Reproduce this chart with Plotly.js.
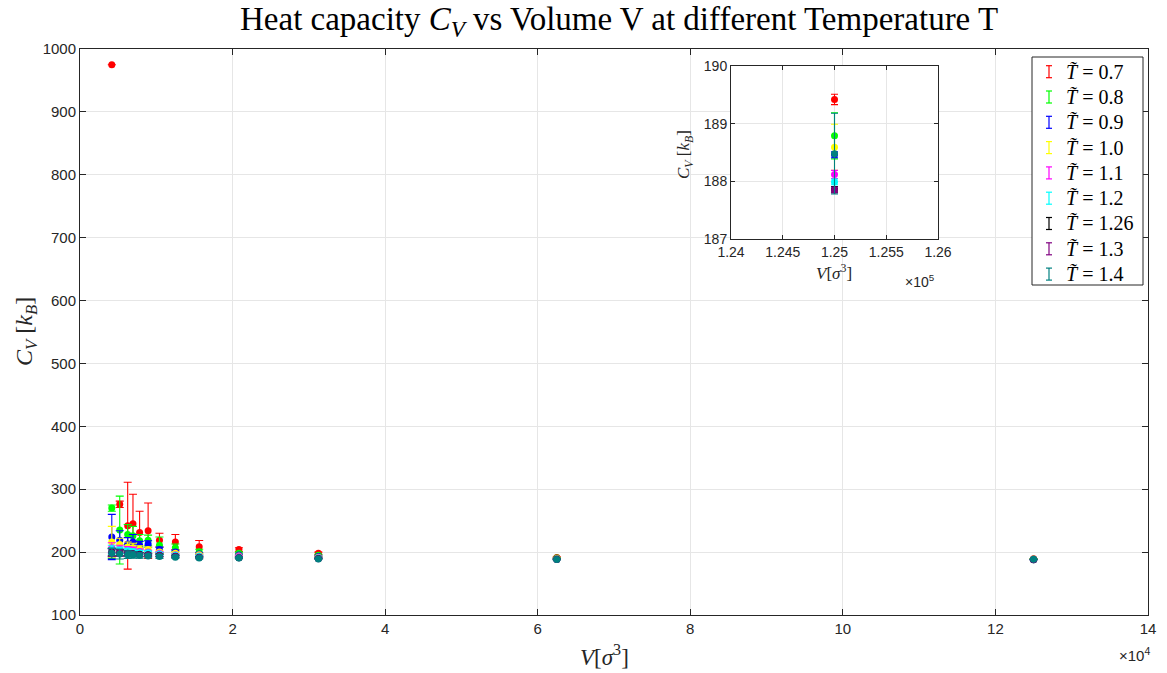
<!DOCTYPE html>
<html>
<head>
<meta charset="utf-8">
<script src="https://cdn.plot.ly/plotly-3.0.1.min.js"></script>
<style>html,body{margin:0;padding:0;background:#fff;}#chart{width:1167px;height:673px;}</style>
</head>
<body>
<div id="chart"></div>
<script>
// ---- data ----
const volumes = [4167, 5208, 6250, 6944, 7813, 8929, 10417, 12500, 15625, 20833, 31250, 62500, 125000];
const temperatures = ['0.7', '0.8', '0.9', '1.0', '1.1', '1.2', '1.26', '1.3', '1.4'];
const colors = ['#ff0000', '#00ff00', '#0000ff', '#ffff00', '#ff00ff', '#00ffff', '#000000', '#800080', '#008080'];

const cv_T07  = [975, 276, 242, 245, 231, 234, 219, 216, 208.5, 204, 198, 191.5, 189.42];
const err_T07 = [0, 5, 69, 47, 34, 44, 11, 12, 10, 3, 2, 1, 0.09];
const cv_T08  = [270, 235, 228, 226, 218, 219, 211, 207, 200.5, 198, 195, 190.5, 188.79];
const err_T08 = [5, 54, 16, 15, 10, 8, 13, 6, 4, 2, 1.5, 1, 0.4];
const cv_T09  = [224, 219, 213, 216, 211, 213, 204, 200, 197, 195.5, 193, 189.5, 188.46];
const err_T09 = [36, 15, 10, 12, 6, 5, 4, 3, 2, 1.5, 1, 0.7, 0.05];
const cv_T10  = [216, 212, 208, 207, 205, 204, 200, 198, 196, 194, 192, 189.5, 188.59];
const err_T10 = [25, 10, 8, 7, 5, 4, 3, 2, 1.5, 1, 1, 0.6, 0.4];
const cv_T11  = [207, 205, 204, 203, 201, 200, 198, 196, 194, 193, 191, 189, 188.12];
const err_T11 = [8, 6, 5, 5, 4, 3, 2, 1.5, 1, 1, 0.7, 0.4, 0.07];
const cv_T12  = [204, 203, 202, 201, 199.5, 199, 197, 195, 193.5, 192, 190.5, 188.8, 187.99];
const err_T12 = [7, 5, 4, 4, 3, 2.5, 2, 1.5, 1, 0.8, 0.6, 0.4, 0.05];
const cv_T126  = [200, 199, 198, 197.5, 196.5, 196, 195, 193.5, 192, 191, 190, 188.5, 187.86];
const err_T126 = [6, 5, 4, 3, 3, 2, 2, 1.5, 1, 0.8, 0.5, 0.3, 0.05];
const cv_T13  = [199, 198.5, 197.5, 197, 196, 195.5, 194.5, 193, 191.5, 191, 189.5, 188.3, 187.85];
const err_T13 = [6, 5, 4, 3, 3, 2, 2, 1.5, 1, 0.8, 0.5, 0.3, 0.05];
const cv_T14  = [198, 197, 196, 195.5, 194.5, 194, 193, 192, 190.5, 190.5, 189, 188.4, 188.48];
const err_T14 = [8, 8, 6, 5, 4, 3, 3, 2, 1.5, 1, 0.8, 0.7, 0.7];

const cvSeries = [cv_T07, cv_T08, cv_T09, cv_T10, cv_T11, cv_T12, cv_T126, cv_T13, cv_T14];
const errSeries = [err_T07, err_T08, err_T09, err_T10, err_T11, err_T12, err_T126, err_T13, err_T14];

const xTickVals = [0, 20000, 40000, 60000, 80000, 100000, 120000, 140000];
const xTickText = ['0', '2', '4', '6', '8', '10', '12', '14'];
const insetTickVals = [124000, 124500, 125000, 125500, 126000];
const insetTickText = ['1.24', '1.245', '1.25', '1.255', '1.26'];

// ---- geometry helpers (pixel -> paper) ----
const W = 1167, H = 673;
const L = 80, R = 1148, T = 49, B = 615;
const px = x => (x - L) / (R - L);
const py = y => (B - y) / (B - T);

const traces = [];
temperatures.forEach((t, i) => {
  traces.push({
    x: volumes, y: cvSeries[i], type: 'scatter', mode: 'markers',
    name: 'T = ' + t, showlegend: false,
    marker: {color: colors[i], size: 7},
    error_y: {type: 'data', array: errSeries[i], visible: true, color: colors[i], thickness: 1.1, width: 4},
    xaxis: 'x', yaxis: 'y'
  });
});
temperatures.forEach((t, i) => {
  traces.push({
    x: volumes, y: cvSeries[i], type: 'scatter', mode: 'markers',
    name: 'T = ' + t, showlegend: false,
    marker: {color: colors[i], size: 7},
    error_y: {type: 'data', array: errSeries[i], visible: true, color: colors[i], thickness: 1.1, width: 3.5},
    xaxis: 'x2', yaxis: 'y2'
  });
});

const axisCommon = {
  showline: true, mirror: 'ticks', ticks: 'inside', ticklen: 6, tickcolor: '#262626',
  linecolor: '#262626', linewidth: 1, showgrid: true, gridcolor: '#e6e6e6', zeroline: false,
  tickfont: {family: 'Liberation Sans, Arial, sans-serif', size: 15, color: '#262626'}
};

const shapes = [];
const annotations = [];

// legend box
shapes.push({type: 'rect', xref: 'paper', yref: 'paper', x0: px(1032), x1: px(1143), y0: py(57), y1: py(285),
  line: {color: '#262626', width: 1}, fillcolor: '#ffffff', layer: 'above'});
temperatures.forEach((t, i) => {
  const yc = 71.7 + 25.3 * i;
  const xc = 1049;
  const c = colors[i];
  shapes.push({type: 'line', xref: 'paper', yref: 'paper', x0: px(xc), x1: px(xc), y0: py(yc - 6), y1: py(yc + 6), line: {color: c, width: 1.2}, layer: 'above'});
  shapes.push({type: 'line', xref: 'paper', yref: 'paper', x0: px(xc - 3), x1: px(xc + 3), y0: py(yc - 6), y1: py(yc - 6), line: {color: c, width: 1.2}, layer: 'above'});
  shapes.push({type: 'line', xref: 'paper', yref: 'paper', x0: px(xc - 3), x1: px(xc + 3), y0: py(yc + 6), y1: py(yc + 6), line: {color: c, width: 1.2}, layer: 'above'});
  annotations.push({xref: 'paper', yref: 'paper', x: px(1064), y: py(yc), xanchor: 'left', yanchor: 'middle', showarrow: false,
    text: '<i>T\u0303</i> = ' + t, font: {family: 'Liberation Serif, Times New Roman, serif', size: 20, color: '#000'}});
});

// titles
annotations.push({xref: 'paper', yref: 'paper', x: px(619), y: py(21), xanchor: 'center', yanchor: 'middle', showarrow: false,
  text: 'Heat capacity <i>C<sub>V</sub></i> vs Volume V at different Temperature T',
  font: {family: 'Liberation Serif, Times New Roman, serif', size: 33, color: '#000'}});
annotations.push({xref: 'paper', yref: 'paper', x: px(604), y: py(655), xanchor: 'center', yanchor: 'middle', showarrow: false,
  text: '<i>V</i>[<i>σ</i><sup>3</sup>]', font: {family: 'Liberation Serif, Times New Roman, serif', size: 23, color: '#262626'}});
annotations.push({xref: 'paper', yref: 'paper', x: px(26), y: py(332), xanchor: 'center', yanchor: 'middle', showarrow: false, textangle: -90,
  text: '<i>C<sub>V</sub></i> [<i>k<sub>B</sub></i>]', font: {family: 'Liberation Serif, Times New Roman, serif', size: 24, color: '#262626'}});
annotations.push({xref: 'paper', yref: 'paper', x: px(1134), y: py(654), xanchor: 'center', yanchor: 'middle', showarrow: false,
  text: '×10<sup>4</sup>', font: {family: 'Liberation Sans, Arial, sans-serif', size: 15, color: '#262626'}});
// inset titles
annotations.push({xref: 'paper', yref: 'paper', x: px(834), y: py(272), xanchor: 'center', yanchor: 'middle', showarrow: false,
  text: '<i>V</i>[<i>σ</i><sup>3</sup>]', font: {family: 'Liberation Serif, Times New Roman, serif', size: 17, color: '#262626'}});
annotations.push({xref: 'paper', yref: 'paper', x: px(685), y: py(155), xanchor: 'center', yanchor: 'middle', showarrow: false, textangle: -90,
  text: '<i>C<sub>V</sub></i> [<i>k<sub>B</sub></i>]', font: {family: 'Liberation Serif, Times New Roman, serif', size: 17, color: '#262626'}});
annotations.push({xref: 'paper', yref: 'paper', x: px(920), y: py(281), xanchor: 'center', yanchor: 'middle', showarrow: false,
  text: '×10<sup>5</sup>', font: {family: 'Liberation Sans, Arial, sans-serif', size: 14, color: '#262626'}});

const layout = {
  width: W, height: H,
  margin: {l: L, r: W - R, t: T, b: H - B, pad: 0},
  paper_bgcolor: '#ffffff', plot_bgcolor: '#ffffff',
  showlegend: false,
  xaxis: Object.assign({}, axisCommon, {domain: [0, 1], range: [0, 140000], tickvals: xTickVals, ticktext: xTickText, anchor: 'y'}),
  yaxis: Object.assign({}, axisCommon, {domain: [0, 1], range: [100, 1000], dtick: 100, tick0: 0, anchor: 'x'}),
  xaxis2: Object.assign({}, axisCommon, {domain: [px(731), px(938)], range: [124000, 126000], tickvals: insetTickVals, ticktext: insetTickText, anchor: 'y2', ticklen: 4,
    tickfont: {family: 'Liberation Sans, Arial, sans-serif', size: 14, color: '#262626'}}),
  yaxis2: Object.assign({}, axisCommon, {domain: [py(239), py(66)], range: [187, 190], dtick: 1, tick0: 187, anchor: 'x2', ticklen: 4,
    tickfont: {family: 'Liberation Sans, Arial, sans-serif', size: 14, color: '#262626'}}),
  shapes: shapes,
  annotations: annotations
};

Plotly.newPlot('chart', traces, layout, {staticPlot: true, displayModeBar: false});
</script>
</body>
</html>
